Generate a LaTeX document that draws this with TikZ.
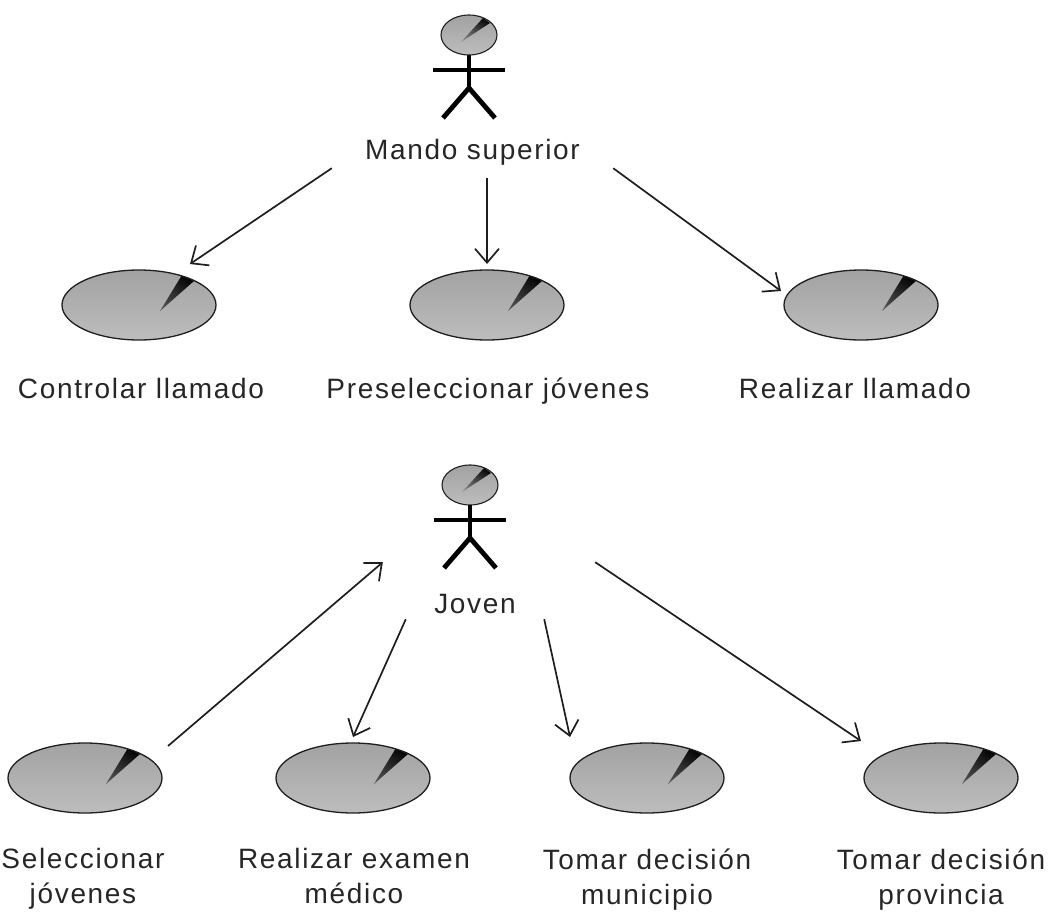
\documentclass[tikz,border=0pt]{standalone}
\usepackage{fontspec}
\setmainfont[LetterSpace=6]{Liberation Sans}
\usetikzlibrary{arrows.meta, shapes.geometric}
\definecolor{ucGrayTop}{HTML}{A2A2A2}
\definecolor{ucGrayBot}{HTML}{BDBDBD}
\definecolor{ucGrayTip}{HTML}{D0D0D0}
\definecolor{lineDark}{HTML}{1E1E1E}
\tikzset{
  arrowU/.style={-{Straight Barb[length=14pt, width=24pt]}, color=lineDark, line width=1.7pt},
  actorLine/.style={line width=4.8pt, black},
  caseLabel/.style={align=center, font=\fontsize{28}{35}\selectfont, inner sep=0pt,
                    execute at begin node=\strut, execute at end node=\strut, text=black!85},
  actorLabel/.style={font=\fontsize{28}{35}\selectfont, inner sep=0pt, text height=20pt, text=black!85},
  boxCase/.style={ellipse, draw=lineDark, line width=1.3pt, top color=ucGrayTop, bottom color=ucGrayBot,
                  minimum width=154pt, minimum height=70pt, inner sep=0pt, outer sep=0pt,
                  path picture={
                    \shade[top color=black, bottom color=ucGrayTip, shading angle=-35]
                      ([shift={(21,6)}]path picture bounding box.center)
                      -- ([shift={(43,-30)}]path picture bounding box.center)
                      -- ([shift={(55,-24)}]path picture bounding box.center) -- cycle;}},
  boxHead/.style={ellipse, draw=lineDark, line width=1.1pt, top color=ucGrayTop, bottom color=ucGrayBot,
                  minimum width=56pt, minimum height=40pt, inner sep=0pt, outer sep=0pt,
                  path picture={
                    \shade[top color=black, bottom color=ucGrayTip, shading angle=-35]
                      ([shift={(-8,7)}]path picture bounding box.center)
                      -- ([shift={(14,-17)}]path picture bounding box.center)
                      -- ([shift={(21,-12)}]path picture bounding box.center) -- cycle;}},
}
\begin{document}
\begin{tikzpicture}[x=1pt, y=-1pt]
  \useasboundingbox (0,0) rectangle (1057,912);
  % actor de arriba
  \node[boxHead] (headMando) at (469,35) {};
  \node[actorLabel, text depth=8pt, minimum width=281pt] (mando) at (472.5,154) {Mando superior};
  % casos de uso del mando
  \node[boxCase] (ucControl) at (139,305) {};
  \node[boxCase] (ucPresel) at (487,305) {};
  \node[boxCase] (ucLlamado) at (861,305) {};
  \node[caseLabel] (lblControl) at (141,391) {Controlar llamado};
  \node[caseLabel] (lblPresel) at (488,391) {Preseleccionar jóvenes};
  \node[caseLabel] (lblLlamado) at (855,391) {Realizar llamado};
  % actor de abajo
  \node[boxHead] (headJoven) at (470,485) {};
  \node[minimum width=212pt, minimum height=96pt, inner sep=0pt] (jovenFig) at (489,514) {};
  \node[actorLabel, text depth=6pt, minimum width=138pt] (joven) at (475,606) {Joven};
  % casos de uso del joven
  \node[boxCase] (ucSelec) at (85,778) {};
  \node[boxCase] (ucExamen) at (353,778) {};
  \node[boxCase] (ucMuni) at (647,778) {};
  \node[boxCase] (ucProv) at (941,778) {};
  \node[caseLabel] (lblSelec) at (83,881.5) {Seleccionar\\jóvenes};
  \node[caseLabel] (lblExamen) at (354,881.5) {Realizar examen\\médico};
  \node[caseLabel] (lblMuni) at (647,881.5) {Tomar decisión\\municipio};
  \node[caseLabel] (lblProv) at (941,881.5) {Tomar decisión\\provincia};
  % monigotes
  \foreach \h in {headMando, headJoven} {
    \draw[actorLine] (\h.south) -- ++(0,33) coordinate (hip);
    \draw[actorLine] ([shift={(-36,15)}]\h.south) -- ++(72,0);
    \draw[actorLine] (hip) -- ++(-26,30);
    \draw[actorLine] (hip) -- ++(26,30);
  }
  % flechas
  \draw[arrowU] (mando.south west) -- ([shift={(51,-41)}]ucControl.center);
  \draw[arrowU] ([shift={(14.5,10)}]mando.south) -- ([shift={(0,-41)}]ucPresel.center);
  \draw[arrowU] (mando.south east) -- ([shift={(-80,-14)}]ucLlamado.center);
  \draw[arrowU] ([shift={(83,-32)}]ucSelec.center) -- (jovenFig.south west);
  \draw[arrowU] (joven.south west) -- ([shift={(0,-41)}]ucExamen.center);
  \draw[arrowU] (joven.south east) -- ([shift={(-77,-41)}]ucMuni.center);
  \draw[arrowU] (jovenFig.south east) -- ([shift={(-80,-37)}]ucProv.center);
\end{tikzpicture}
\end{document}
